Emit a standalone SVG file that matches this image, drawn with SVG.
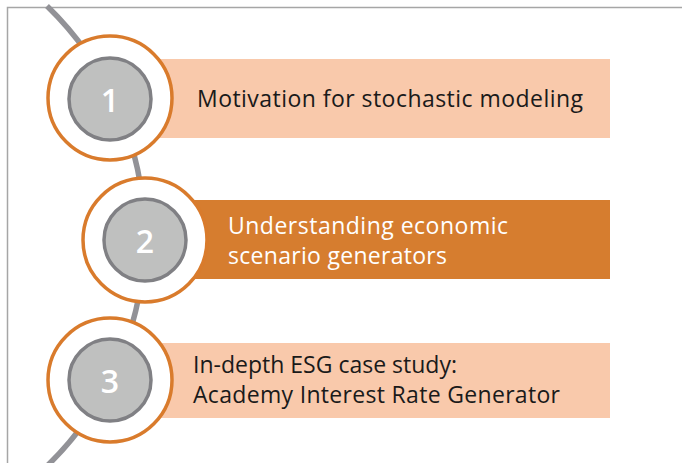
<svg xmlns="http://www.w3.org/2000/svg" width="682" height="463" viewBox="0 0 682 463">
<style>
.frame{fill:none;stroke:#a6a6a6;stroke-width:1.5}
.arc{fill:none;stroke:#929297;stroke-width:5.5}
.ring{fill:#ffffff;stroke:#d97b2c;stroke-width:3.5}
.core{fill:#bfc0bf;stroke:#808084;stroke-width:3.5}
.num{font-family:"Open Sans","Noto Sans",sans-serif;font-size:32px;font-weight:600;fill:#ffffff;text-anchor:middle}
.lab{font-family:"Open Sans","Noto Sans",sans-serif;font-size:23px;fill:#1a1a1a}
.lab2{font-family:"Open Sans","Noto Sans",sans-serif;font-size:23px;fill:#ffffff}
.light{fill:#f9c9ab}
.dark{fill:#d67d2f}
</style>
<path class="frame" d="M682,7.5 H7.5 V463"/>
<g id="connectors">
<path class="arc" d="M47,6 A320,320 0 0 1 47,466"/>
</g>
<g id="node1">
<rect class="light" x="150" y="59" width="460" height="79"/>
<circle class="ring" cx="110" cy="98" r="62"/>
<circle class="core" cx="110" cy="99" r="41"/>
<text class="num" x="110" y="112">1</text>
<text class="lab" x="197" y="107" textLength="386" lengthAdjust="spacing">Motivation for stochastic modeling</text>
</g>
<g id="node2">
<rect class="dark" x="185" y="200" width="425" height="79"/>
<circle class="ring" cx="145" cy="240" r="62"/>
<circle class="core" cx="145" cy="240" r="41"/>
<text class="num" x="145" y="253">2</text>
<text class="lab2" x="228" y="234" textLength="280" lengthAdjust="spacing">Understanding economic</text>
<text class="lab2" x="228" y="264" textLength="219" lengthAdjust="spacing">scenario generators</text>
</g>
<g id="node3">
<rect class="light" x="150" y="343" width="460" height="75"/>
<circle class="ring" cx="110" cy="380" r="62"/>
<circle class="core" cx="110" cy="380" r="41"/>
<text class="num" x="110" y="393">3</text>
<text class="lab" x="193" y="373" textLength="264" lengthAdjust="spacing">In-depth ESG case study:</text>
<text class="lab" x="193" y="403" textLength="367" lengthAdjust="spacing">Academy Interest Rate Generator</text>
</g>
</svg>
